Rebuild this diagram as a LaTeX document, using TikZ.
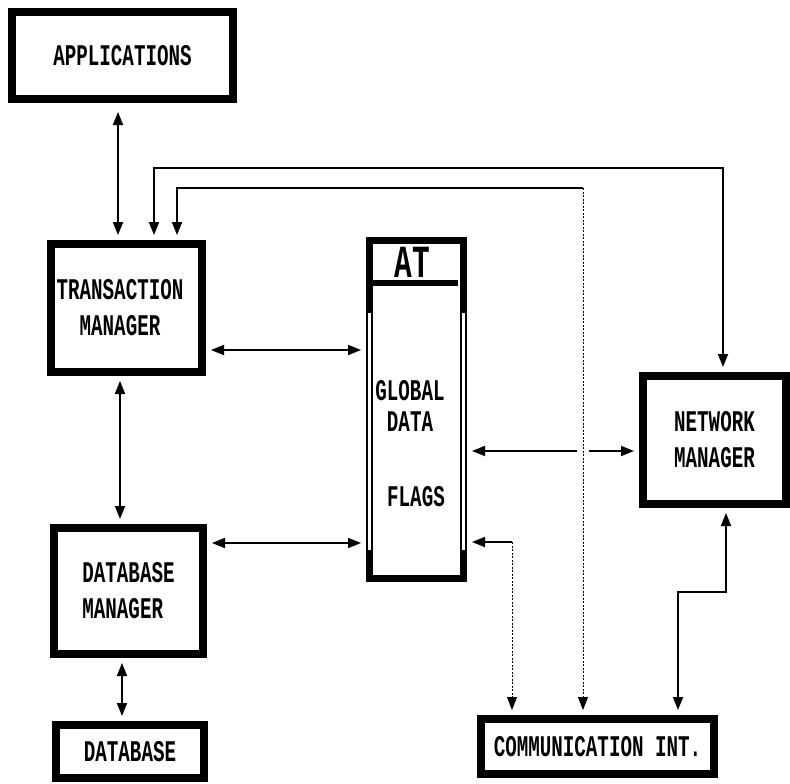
\documentclass[tikz,border=0pt]{standalone}
\usepackage{fontspec}
\usetikzlibrary{arrows.meta,calc}
\newfontfamily\plotfont[FakeStretch=0.64]{Liberation Mono}
\newcommand\plotlabel{\plotfont\bfseries\fontsize{30}{36}\selectfont}
\newcommand\plottitle{\plotfont\bfseries\fontsize{46}{46}\selectfont}

\tikzset{
  box/.style={draw,line width=8pt,inner sep=0pt,font=\plotlabel},
  link/.style={line width=1.8pt,shorten <=5pt,shorten >=5pt},
  faint/.style={line width=0.9pt,dash pattern=on 2pt off 1.5pt,shorten >=5pt},
}

\begin{document}
\begin{tikzpicture}[x=1pt,y=-1pt,>={Triangle[length=13pt,width=10pt]}]
  \useasboundingbox (0,0) rectangle (790,784);

  % boxes
  \node[box,minimum width=221pt,minimum height=87pt] (app) at (122.5,55.5) {APPLICATIONS};
  \node[box,minimum width=151pt,minimum height=128pt] (tm) at (126.5,308) {};
  \node[font=\plotlabel,align=center] (tmtext) at (120,308) {TRANSACTION\\MANAGER};
  \node[box,minimum width=149pt,minimum height=126pt,align=left] (dbm) at (128.5,591) {DATABASE\\MANAGER};
  \node[box,minimum width=148pt,minimum height=53pt] (db) at (130,751.5) {DATABASE};
  \node[box,line width=7pt,minimum width=94pt,minimum height=338pt] (at) at (416.5,409.5) {};
  \node[box,minimum width=143pt,minimum height=128pt,align=left] (nm) at (714.5,440) {NETWORK\\MANAGER};
  \node[box,minimum width=233pt,minimum height=55pt] (comm) at (597.5,746.5) {COMMUNICATION INT.};

  % inside the AT box
  \node[font=\plottitle] (atname) at (412,262) {AT};
  \draw[line width=6pt] ($(at.north west)+(7,46)$) -- ($(at.north east)+(-9,46)$);
  \draw[white,line width=2.5pt] ($(at.north west)+(3.5,76)$) -- ($(at.south west)+(3.5,-32)$);
  \draw[white,line width=2.5pt] ($(at.north east)+(-3.5,76)$) -- ($(at.south east)+(-3.5,-32)$);
  \node[font=\plotfont\bfseries\fontsize{30}{31}\selectfont,align=center] (glob) at (410,406) {GLOBAL\\DATA};
  \node[font=\plotlabel] (flags) at (416,497) {FLAGS};

  % bends and rows
  \coordinate (upA) at (154,168);
  \coordinate (upB) at (723,168);
  \coordinate (upC) at (177,188);
  \coordinate (upD) at (583,188);
  \coordinate (rowT) at (0,350);
  \coordinate (rowD) at (0,543);
  \coordinate (rowN) at (583,451);
  \coordinate (ciA) at (512,542);
  \coordinate (ciB) at (678,592);
  \coordinate (ciC) at (726,592);
  \coordinate (colA) at (118,0);
  \coordinate (colM) at (120,0);
  \coordinate (colD) at (122,0);

  % connectors
  \draw[link,<->,shorten <=9pt] (app.south -| colA) -- (tm.north -| colA);
  \draw[link,<->] (tm.north -| upA) -- (upA) -- (upB) -- (nm.north -| upB);
  \draw[link,<-,shorten >=0pt] (tm.north -| upC) -- (upC) -- (upD);
  \draw[link,<->] (tm.east |- rowT) -- (at.west |- rowT);
  \draw[link,<->] (dbm.east |- rowD) -- (at.west |- rowD);
  \draw[link,<->] (tm.south -| colM) -- (dbm.north -| colM);
  \draw[link,<->] (dbm.south -| colD) -- (db.north -| colD);
  \draw[link,<->] (at.east |- rowN) -- (nm.west |- rowN);
  \draw[white,line width=5pt] ([xshift=-6pt]rowN) -- ([xshift=6pt]rowN);
  \draw[faint,->] (upD) -- (comm.north -| upD);
  \draw[link,<-,shorten >=0pt] (at.east |- ciA) -- (ciA);
  \draw[faint,->] (ciA) -- (comm.north -| ciA);
  \draw[link,<->] (comm.north -| ciB) -- (ciB) -- (ciC) -- (nm.south -| ciC);
\end{tikzpicture}
\end{document}
